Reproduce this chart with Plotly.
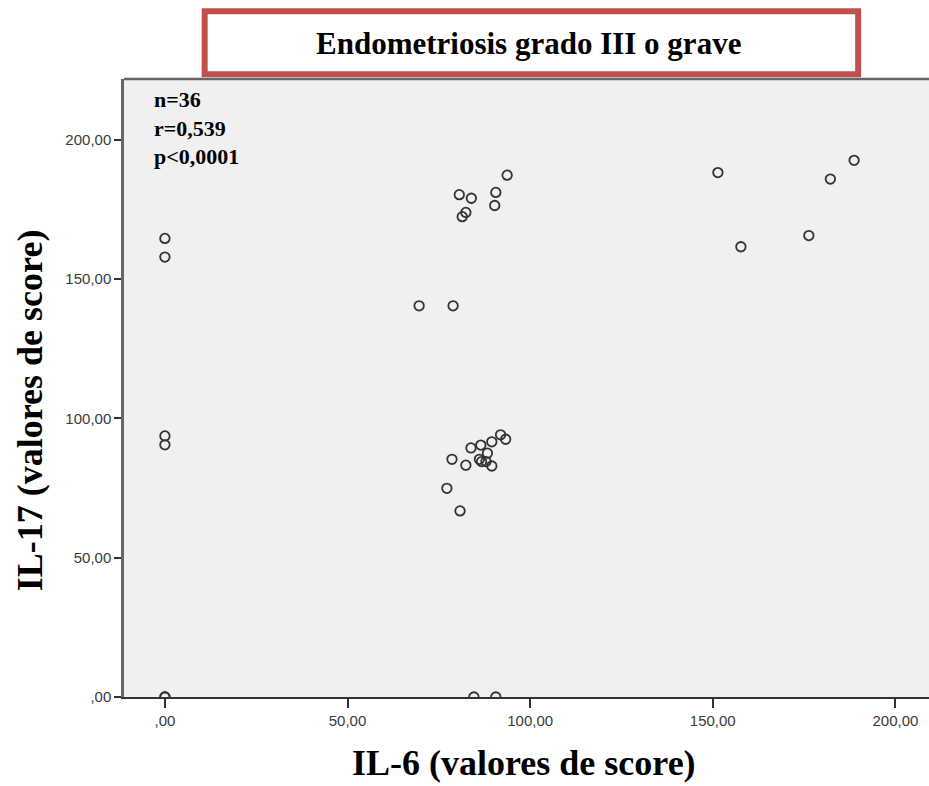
import plotly.graph_objects as go


# --------------------------------------------------------
# Data
# --------------------------------------------------------

il6_scores = [
    0, 0, 0, 0, 0, 0,
    80.6, 83.9, 82.4, 81.4, 90.6, 90.3, 93.7,
    69.6, 78.9,
    151.4, 157.7, 176.3, 182.2, 188.7,
    91.9, 93.3, 89.5, 86.5, 83.8, 88.3, 86.1,
    87.9, 86.7, 89.5, 78.6, 82.4, 77.2, 80.8,
    84.6, 90.6
]

il17_scores = [
    164.6, 157.9, 93.7, 90.5, 0, 0,
    180.3, 179.0, 173.9, 172.4, 181.1, 176.4, 187.3,
    140.4, 140.4,
    188.2, 161.6, 165.6, 185.9, 192.6,
    94.1, 92.5, 91.6, 90.4, 89.4, 87.5, 85.3,
    84.5, 84.5, 82.9, 85.3, 83.2, 74.9, 66.8,
    0, 0
]

tick_values = [0, 50, 100, 150, 200]

tick_labels = [",00", "50,00", "100,00", "150,00", "200,00"]

stats_lines = ["n=36", "r=0,539", "p<0,0001"]


# --------------------------------------------------------
# Scatter
# --------------------------------------------------------

fig = go.Figure()

fig.add_trace(

    go.Scatter(

        x=il6_scores,

        y=il17_scores,

        mode="markers",

        marker=dict(
            symbol="circle-open",
            size=9.5,
            color="#333333",
            line=dict(width=1.8, color="#333333")
        ),

        showlegend=False

    )

)


# --------------------------------------------------------
# Axes
# --------------------------------------------------------

tick_font = dict(family="Liberation Sans, Arial", size=15, color="#3a3a3a")

fig.update_xaxes(

    range=[-11.2, 209.2],

    tickvals=tick_values,

    ticktext=tick_labels,

    tickfont=tick_font,

    ticks="outside",

    ticklen=9,

    tickwidth=2,

    tickcolor="#333333",

    showline=True,

    linecolor="#333333",

    linewidth=2,

    showgrid=False,

    zeroline=False

)

fig.update_yaxes(

    range=[0, 221.8],

    tickvals=tick_values,

    ticktext=tick_labels,

    tickfont=tick_font,

    ticks="outside",

    ticklen=7,

    tickwidth=2,

    tickcolor="#333333",

    showline=True,

    linecolor="#666666",

    linewidth=2.5,

    showgrid=False,

    zeroline=False

)


# --------------------------------------------------------
# Frame, title box and labels
# --------------------------------------------------------

fig.add_shape(

    type="line",

    xref="paper", yref="paper",

    x0=0, x1=1, y0=1, y1=1,

    line=dict(color="#666666", width=2.5)

)

fig.add_shape(

    type="rect",

    xref="paper", yref="paper",

    x0=0.1002, x1=0.912, y0=1.0076, y1=1.1096,

    fillcolor="white",

    line=dict(color="#c0504d", width=6)

)

serif = "Liberation Serif, Times New Roman"

fig.add_annotation(

    x=0.5025, y=1.057,

    xref="paper", yref="paper",

    text="<b>Endometriosis grado III o grave</b>",

    showarrow=False,

    xanchor="center", yanchor="middle",

    font=dict(family=serif, size=31, color="black")

)

fig.add_annotation(

    x=0.0344, y=0.99,

    xref="paper", yref="paper",

    text="<b>" + "<br>".join(stats_lines) + "</b>",

    showarrow=False,

    align="left",

    xanchor="left", yanchor="top",

    font=dict(family=serif, size=22, color="black")

)

fig.add_annotation(

    x=0.497, y=-0.107,

    xref="paper", yref="paper",

    text="<b>IL-6 (valores de score)</b>",

    showarrow=False,

    xanchor="center", yanchor="middle",

    font=dict(family=serif, size=36, color="black")

)

fig.add_annotation(

    x=-0.1168, y=0.464,

    xref="paper", yref="paper",

    text="<b>IL-17 (valores de score)</b>",

    showarrow=False,

    textangle=-90,

    xanchor="center", yanchor="middle",

    font=dict(family=serif, size=36, color="black")

)


# --------------------------------------------------------
# Layout
# --------------------------------------------------------

fig.update_layout(

    width=929,

    height=786,

    margin=dict(l=124, r=0, t=79, b=89),

    plot_bgcolor="#f0f0f0",

    paper_bgcolor="white"

)

# drop the page's default body margin so the chart sits at 0,0
fig.write_html(
    "out.html",
    config={"displayModeBar": False},
    post_script="document.body.style.margin='0';"
)
